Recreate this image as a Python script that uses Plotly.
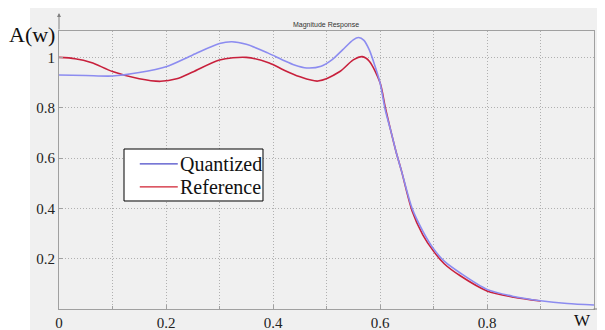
import plotly.graph_objects as go

# Quantized response
q_w = [0.00, 0.05, 0.10, 0.15, 0.20, 0.25, 0.30, 0.323, 0.35, 0.39, 0.42, 0.44, 0.463, 0.49, 0.51,
       0.53, 0.55, 0.56, 0.57, 0.58, 0.59, 0.60, 0.61, 0.62, 0.63, 0.64, 0.66, 0.68, 0.70,
       0.72, 0.75, 0.80, 0.85, 0.90, 0.95, 1.00]
q_a = [0.930, 0.928, 0.926, 0.940, 0.963, 1.010, 1.055, 1.062, 1.052, 1.018, 0.988, 0.970, 0.958, 0.965, 0.990,
       1.030, 1.070, 1.079, 1.068, 1.030, 0.970, 0.900, 0.790, 0.710, 0.625, 0.550, 0.400, 0.310, 0.240,
       0.190, 0.143, 0.078, 0.050, 0.033, 0.022, 0.016]

# Reference response
r_w = [0.00, 0.03, 0.06, 0.10, 0.15, 0.19, 0.22, 0.25, 0.30, 0.35, 0.393, 0.42, 0.449, 0.484, 0.525,
       0.55, 0.567, 0.58, 0.60, 0.61, 0.62, 0.63, 0.64, 0.66, 0.68, 0.70, 0.72, 0.75, 0.80,
       0.85, 0.90]
r_a = [1.000, 0.995, 0.980, 0.944, 0.915, 0.905, 0.915, 0.942, 0.990, 1.000, 0.978, 0.950, 0.924, 0.906, 0.944,
       0.990, 1.003, 0.985, 0.900, 0.800, 0.710, 0.625, 0.550, 0.390, 0.295, 0.230, 0.180, 0.132, 0.072,
       0.047, 0.032]

x_ticks = [0, 0.2, 0.4, 0.6, 0.8]
x_labels = ["0", "0.2", "0.4", "0.6", "0.8"]
y_ticks = [0, 0.2, 0.4, 0.6, 0.8, 1.0]
y_labels = ["", "0.2", "0.4", "0.6", "0.8", "1"]
legend_names = ["Quantized", "Reference"]

serif = "Liberation Serif, Times New Roman, serif"
grid_dash = "1px,2px"
q_color = "#8c8cf0"
r_color = "#c8203c"

fig = go.Figure()
fig.add_trace(go.Scatter(x=r_w, y=r_a, mode="lines", name=legend_names[1], showlegend=False,
                         line=dict(color=r_color, width=1.6, shape="spline", smoothing=0.8)))
fig.add_trace(go.Scatter(x=q_w, y=q_a, mode="lines", name=legend_names[0], showlegend=False,
                         line=dict(color=q_color, width=1.6, shape="spline", smoothing=0.8)))

# hand-drawn legend box (paper coordinates)
lg_x0, lg_x1, lg_y0, lg_y1 = 0.1215, 0.3813, 0.3885, 0.5755
lg_rows = [0.522, 0.439]
lg_line_x = (0.151, 0.222)
lg_colors = ["#4a4ac8", "#d02030"]

shapes = [
    dict(type="rect", xref="paper", yref="paper", x0=-0.0542, x1=1.03, y0=-0.1, y1=1.0863,
         fillcolor="#f0f0f0", line=dict(width=0), layer="below"),
    dict(type="rect", xref="paper", yref="paper", x0=lg_x0, x1=lg_x1, y0=lg_y0, y1=lg_y1,
         fillcolor="white", line=dict(color="black", width=1), layer="above"),
]
annotations = [
    dict(text="Magnitude Response", xref="paper", yref="paper", x=0.499, y=1.042,
         showarrow=False, font=dict(family="Arial", size=7, color="#333")),
    dict(text="A(w)", xref="paper", yref="paper", x=-0.003, y=0.986,
         xanchor="right", yanchor="middle", showarrow=False,
         font=dict(family=serif, size=22, color="#111")),
    dict(text="W", xref="paper", yref="paper", x=0.978, y=-0.040,
         xanchor="center", yanchor="middle", showarrow=False,
         font=dict(family=serif, size=17, color="#111")),
    dict(x=0, y=1.0647, xref="x", yref="paper", ax=0, ay=18, axref="pixel", ayref="pixel",
         showarrow=True, arrowhead=2, arrowsize=0.8, arrowwidth=1, arrowcolor="#808080", text=""),
    dict(x=1.0187, y=0, xref="paper", yref="y", ax=-12, ay=0,
         showarrow=True, arrowhead=2, arrowsize=0.8, arrowwidth=1, arrowcolor="#808080", text=""),
]
for name, yy, col in zip(legend_names, lg_rows, lg_colors):
    shapes.append(dict(type="line", xref="paper", yref="paper", x0=lg_line_x[0], x1=lg_line_x[1],
                       y0=yy, y1=yy, line=dict(color=col, width=1.2), layer="above"))
    annotations.append(dict(text=name, xref="paper", yref="paper", x=lg_line_x[1] + 0.001, y=yy,
                            xanchor="left", yanchor="middle", showarrow=False,
                            font=dict(family=serif, size=20, color="#111")))

# page has an 8px body margin, so the figure is 8px smaller and offset
fig.update_layout(
    width=597, height=322,
    margin=dict(l=51, r=11, t=23, b=21, autoexpand=False),
    paper_bgcolor="white", plot_bgcolor="white",
    showlegend=False,
    font=dict(family=serif, size=15, color="#222"),
    shapes=shapes,
    annotations=annotations,
)

fig.update_xaxes(range=[0, 1], tickvals=x_ticks, ticktext=x_labels, automargin=False,
                 showgrid=True, gridcolor="#b0b0b0", griddash=grid_dash, gridwidth=1,
                 minor=dict(dtick=0.1, showgrid=True, gridcolor="#b0b0b0", griddash=grid_dash,
                            ticks="inside", ticklen=3, tickcolor="#a0a0a0"),
                 showline=True, linecolor="#a0a0a0", linewidth=1, mirror=True,
                 ticks="inside", ticklen=4, tickcolor="#a0a0a0", zeroline=False,
                 tickfont=dict(family=serif, size=15, color="#222"))
fig.update_yaxes(range=[0, 1.105], tickvals=y_ticks, ticktext=y_labels, automargin=False,
                 showgrid=True, gridcolor="#b0b0b0", griddash=grid_dash, gridwidth=1,
                 showline=True, linecolor="#a0a0a0", linewidth=1, mirror=True,
                 ticks="inside", ticklen=4, tickcolor="#a0a0a0", zeroline=False,
                 ticklabelstandoff=0,
                 tickfont=dict(family=serif, size=15, color="#222"))

fig.write_html("out.html")
